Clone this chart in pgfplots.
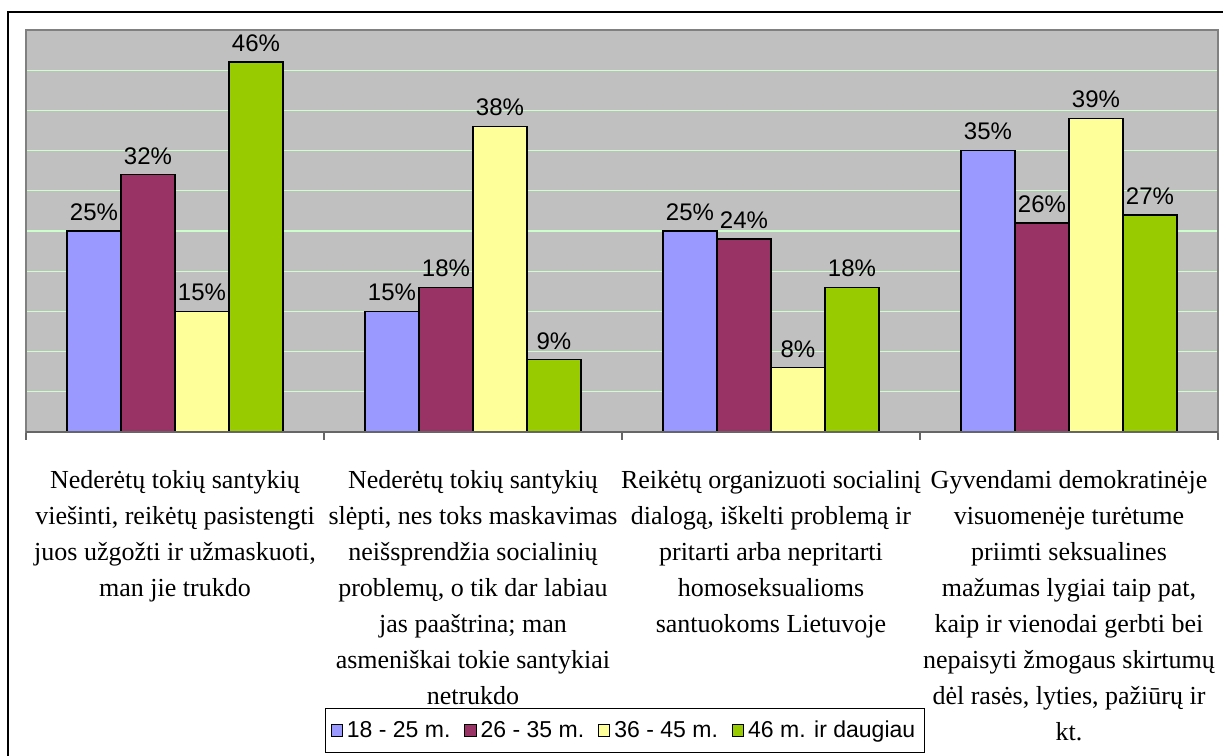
\documentclass[border=0pt]{standalone}
\usepackage{fontspec}
\setmainfont{Liberation Serif}
\newfontfamily\arial{Liberation Sans}
\usepackage{pgfplots}
\pgfplotsset{compat=1.18}
\definecolor{cA}{HTML}{9999FF}
\definecolor{cB}{HTML}{993366}
\definecolor{cC}{HTML}{FFFF99}
\definecolor{cD}{HTML}{99CC00}
\definecolor{bgc}{HTML}{C0C0C0}
\definecolor{gridc}{HTML}{CCFFCC}
\definecolor{framec}{HTML}{808080}
\newcommand\catfont{\fontsize{13}{18}\selectfont}
\begin{document}
\begin{tikzpicture}
\useasboundingbox (0,0) rectangle (611.5pt,-378pt);
\draw[line width=1pt] (4pt,-700pt) -- (4pt,-6pt) -- (700pt,-6pt);
\begin{axis}[
  at={(13pt,-216pt)}, anchor=south west,
  scale only axis, width=596pt, height=201pt,
  xmin=0, xmax=4, ymin=0, ymax=50,
  clip=false,
  /pgf/number format/assume math mode=true,
  ybar=0pt, bar width=0.1812,
  axis background/.style={fill=bgc},
  axis line style={framec, line width=0.6pt},
  ytick={0,5,...,50}, yticklabels={}, ytick style={draw=none},
  ymajorgrids, major grid style={gridc, line width=0.6pt},
  xtick={0,1,2,3,4}, xticklabels={}, xtick pos=left, tick align=outside,
  major tick length=4pt, xtick style={black!60, line width=0.6pt},
  nodes near coords={\arial\pgfmathprintnumber{\pgfplotspointmeta}\%},
  nodes near coords style={font=\arial\fontsize{12}{14}\selectfont, black, yshift=1.5pt},
  legend columns=4,
  legend style={at={(0.5025,-0.7425)}, anchor=center, draw=black, line width=0.5pt,
    fill=white, font=\arial\fontsize{11.5}{13}\selectfont, inner ysep=4.2pt, inner xsep=2.5pt,
    /tikz/every even column/.append style={column sep=5pt}},
  legend image code/.code={\draw[#1, draw=black, line width=0.5pt] (0pt,-2.8pt) rectangle (5.6pt,2.8pt);},
  every axis plot/.append style={draw=black, line width=0.75pt},
]
\addplot[fill=cA] coordinates {(0.5,25) (1.5,15) (2.5,25) (3.5,35)};
\addplot[fill=cB] coordinates {(0.5,32) (1.5,18) (2.5,24) (3.5,26)};
\addplot[fill=cC] coordinates {(0.5,15) (1.5,38) (2.5,8) (3.5,39)};
\addplot[fill=cD] coordinates {(0.5,46) (1.5,9) (2.5,18) (3.5,27)};
\legend{18 - 25 m., 26 - 35 m., 36 - 45 m., 46 m. ir daugiau}
\draw[black!60, line width=1pt] (rel axis cs:0,0) -- (rel axis cs:1,0);
\node[anchor=north, inner sep=0pt, align=center, font=\catfont] at (axis cs:0.5,0) [yshift=-19.2pt]
  {Nederėtų tokių santykių\\viešinti, reikėtų pasistengti\\juos užgožti ir užmaskuoti,\\man jie trukdo};
\node[anchor=north, inner sep=0pt, align=center, font=\catfont] at (axis cs:1.5,0) [yshift=-19.2pt]
  {Nederėtų tokių santykių\\slėpti, nes toks maskavimas\\neišsprendžia socialinių\\problemų, o tik dar labiau\\jas paaštrina; man\\asmeniškai tokie santykiai\\netrukdo};
\node[anchor=north, inner sep=0pt, align=center, font=\catfont] at (axis cs:2.5,0) [yshift=-19.2pt]
  {Reikėtų organizuoti socialinį\\dialogą, iškelti problemą ir\\pritarti arba nepritarti\\homoseksualioms\\santuokoms Lietuvoje};
\node[anchor=north, inner sep=0pt, align=center, font=\catfont] at (axis cs:3.5,0) [yshift=-19.2pt]
  {Gyvendami demokratinėje\\visuomenėje turėtume\\priimti seksualines\\mažumas lygiai taip pat,\\kaip ir vienodai gerbti bei\\nepaisyti žmogaus skirtumų\\dėl rasės, lyties, pažiūrų ir\\kt.};
\end{axis}
\end{tikzpicture}
\end{document}
